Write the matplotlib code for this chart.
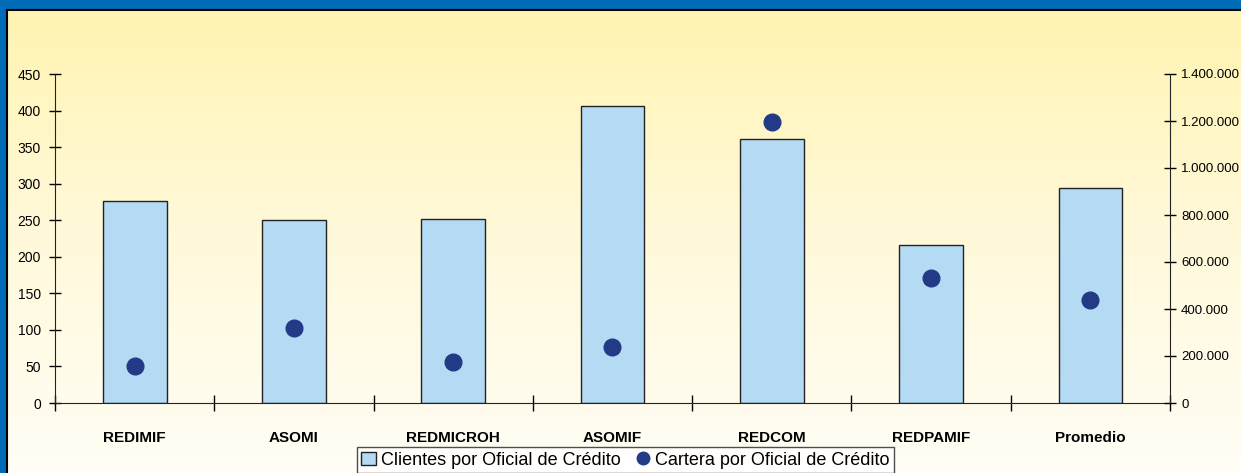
import numpy as np
import matplotlib
matplotlib.use("Agg")
import matplotlib.pyplot as plt
from matplotlib.patches import Rectangle
from matplotlib.ticker import FuncFormatter, MultipleLocator
from matplotlib.colors import LinearSegmentedColormap

plt.rcParams['font.family'] = ['Liberation Sans', 'DejaVu Sans']

# data
categories = ['REDIMIF', 'ASOMI', 'REDMICROH', 'ASOMIF', 'REDCOM', 'REDPAMIF', 'Promedio']
clientes = [276, 250, 252, 406, 361, 216, 294]
cartera = [157000, 319000, 174000, 238000, 1196000, 532000, 438000]

W, H = 1241, 473
fig = plt.figure(figsize=(W / 100, H / 100), dpi=100)

# background gradient (yellow at top, near white at bottom)
bg = fig.add_axes([0, 0, 1, 1], zorder=-10)
grad = np.linspace(0, 1, 256).reshape(-1, 1)
cmap = LinearSegmentedColormap.from_list('bg', ['#FFF4B0', '#FFF9DA', '#FFFEF6'])
bg.imshow(grad, aspect='auto', cmap=cmap, extent=[0, 1, 0, 1], origin='upper')
bg.set_xlim(0, 1)
bg.set_ylim(0, 1)
bg.axis('off')

# blue frame on top and left
bg.add_patch(Rectangle((0, 1 - 10 / H), 1, 10 / H, color='#006BB6', lw=0))
bg.add_patch(Rectangle((0, 0), 6 / W, 1, color='#006BB6', lw=0))
bg.plot([6.5 / W, 6.5 / W], [0, 1 - 10 / H], color='black', lw=1.5)
bg.plot([6.5 / W, 1], [1 - 10.5 / H, 1 - 10.5 / H], color='black', lw=1.5)

left, right = 55 / W, 1170 / W
bottom, top = 1 - 403 / H, 1 - 74 / H
ax = fig.add_axes([left, bottom, right - left, top - bottom])
ax.patch.set_alpha(0)

x = np.arange(len(categories))
ax.bar(x, clientes, width=0.4, color='#B5DAF3', edgecolor='#222222',
       linewidth=1.0, label='Clientes por Oficial de Crédito')
ax.set_xlim(-0.5, len(categories) - 0.5)
ax.set_ylim(0, 450)
ax.yaxis.set_major_locator(MultipleLocator(50))

ax.set_xticks(x)
ax.set_xticklabels(categories, fontsize=11, fontweight='bold')
ax.tick_params(axis='x', length=0, pad=20)
ax.set_xticks(np.arange(len(categories) + 1) - 0.5, minor=True)
ax.tick_params(axis='x', which='minor', length=12, direction='inout', width=1)
ax.tick_params(axis='y', labelsize=10, length=8, direction='inout', width=1, pad=6)

for s in ['top', 'right']:
    ax.spines[s].set_visible(False)
ax.spines['left'].set_color('#222222')
ax.spines['bottom'].set_color('#222222')

ax2 = ax.twinx()
ax2.set_ylim(0, 1400000)
ax2.yaxis.set_major_locator(MultipleLocator(200000))
ax2.yaxis.set_major_formatter(FuncFormatter(lambda v, p: f'{int(v):,}'.replace(',', '.')))
ax2.tick_params(axis='y', labelsize=9.5, length=8, direction='inout', width=1, pad=4)
for s in ['top', 'left', 'bottom']:
    ax2.spines[s].set_visible(False)
ax2.spines['right'].set_color('#222222')
ax2.plot(x, cartera, linestyle='none', marker='o', markersize=12,
         color='#233A87', label='Cartera por Oficial de Crédito')

h1, l1 = ax.get_legend_handles_labels()
h2, l2 = ax2.get_legend_handles_labels()
leg = fig.legend(h1 + h2, l1 + l2, loc='upper center', bbox_to_anchor=(0.504, 26 / H),
                 ncol=2, fontsize=13, frameon=True, fancybox=False, edgecolor='#222222',
                 handlelength=0.8, handletextpad=0.3, columnspacing=0.8,
                 borderpad=0.25, borderaxespad=0)
leg.get_frame().set_facecolor('white')
leg.get_frame().set_linewidth(1)
leg.legend_handles[1].set_markersize(9)

fig.savefig('out.png', dpi=100)
